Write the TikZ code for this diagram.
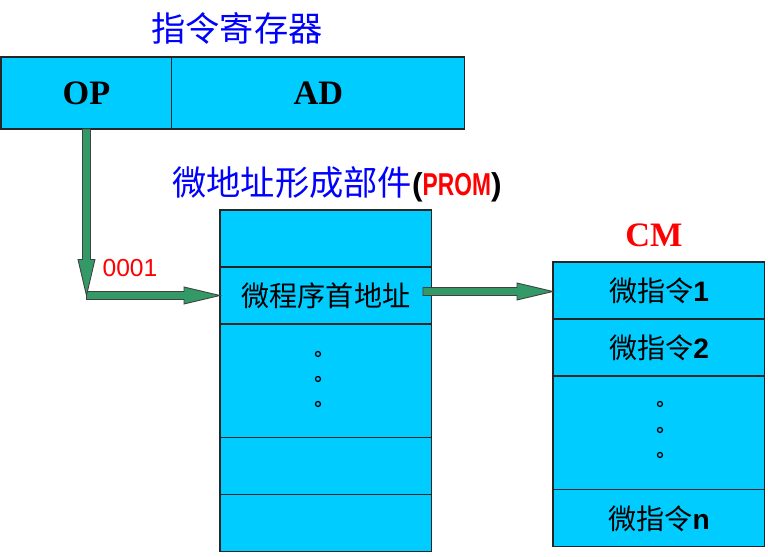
\documentclass[tikz,border=0pt]{standalone}
\usepackage{fontspec}
\setmainfont{Liberation Serif}
\setsansfont{Liberation Sans}
\newfontfamily\cjk{Noto Sans CJK SC}
\newfontfamily\narrowsans[FakeStretch=0.72]{Liberation Sans}
\usepackage{tikz}
\usetikzlibrary{positioning, calc}

\definecolor{cellcyan}{HTML}{00CCFF}
\definecolor{arrowgreen}{HTML}{339966}
\definecolor{titleblue}{HTML}{0000FF}
\definecolor{labelred}{HTML}{FF0000}

% block arrow from #1 to #2 (shaft + head as one outline)
\newcommand{\blockarrow}[2]{%
  \path ($(#2)!0.72cm!(#1)$) coordinate (hb);
  \filldraw[fill=arrowgreen, draw=black!75, line width=0.5pt, line join=miter]
    ($(#1)!0.08cm!90:(#2)$) -- ($(hb)!0.08cm!90:(#2)$) -- ($(hb)!0.17cm!90:(#2)$)
    -- (#2) -- ($(hb)!0.17cm!-90:(#2)$) -- ($(hb)!0.08cm!-90:(#2)$)
    -- ($(#1)!0.08cm!-90:(#2)$) -- cycle;}

\begin{document}
\begin{tikzpicture}[
        x=0.02cm, y=-0.02cm,
        cell/.style={draw=black!85, line width=0.6pt, fill=cellcyan, outer sep=0pt, inner sep=0pt,
                     minimum width=4.24cm, minimum height=#1, font=\cjk\fontsize{16}{19}\selectfont},
        cell/.default=1.14cm,
        regcell/.style={draw=black!85, line width=0.6pt, fill=cellcyan, outer sep=0pt, inner sep=0pt,
                     minimum height=1.44cm, font=\bfseries\fontsize{19.5}{23}\selectfont},
        title/.style={text=titleblue, inner sep=0pt, font=\cjk\fontsize{19.5}{23}\selectfont},
        lbl/.style={text=labelred, inner sep=0pt},
        dotmark/.style={draw=black, line width=0.7pt},
    ]
    \useasboundingbox (0,0) rectangle (768,556);

    % ---- Instruction register ----
    \node[title] (regtitle) at (237,28) {指令寄存器};
    \node[regcell, minimum width=3.42cm, anchor=north west] (op) at (1,57) {OP};
    \node[regcell, minimum width=5.86cm, right=0pt of op] (ad) {AD};

    % ---- PROM ----
    \node[anchor=west, inner sep=0pt] (promtitle) at (172,184)
        {\textcolor{titleblue}{\cjk\fontsize{19.5}{23}\selectfont 微地址形成部件}{\sffamily\bfseries\fontsize{18}{21}\selectfont(\textcolor{labelred}{\narrowsans\bfseries PROM})}};
    \node[cell, anchor=north west] (prom1) at (220,210) {};
    \node[cell, below=0pt of prom1] (prom2) {微程序首地址};
    \node[cell=2.28cm, below=0pt of prom2] (prom3) {};
    \node[cell, below=0pt of prom3] (prom4) {};
    \node[cell, below=0pt of prom4] (prom5) {};
    \foreach \dy in {-27,-2,23}
        \draw[dotmark] ($(prom3.center)+(-8,\dy)$) circle (0.05cm);

    % ---- Control memory ----
    \node[lbl, font=\bfseries\fontsize{19.5}{23}\selectfont] (cmtitle) at (654,235) {CM};
    \node[cell, anchor=north west] (cm1) at (553,262) {微指令{\sffamily\bfseries 1}};
    \node[cell, below=0pt of cm1] (cm2) {微指令{\sffamily\bfseries 2}};
    \node[cell=2.28cm, below=0pt of cm2] (cm3) {};
    \node[cell, below=0pt of cm3] (cm4) {微指令{\sffamily\bfseries n}};
    \foreach \dy in {-29,-3,22}
        \draw[dotmark] ($(cm3.center)+(1,\dy)$) circle (0.05cm);

    % ---- Arrows ----
    \coordinate (bend) at (op.south |- prom2.west);
    \coordinate (a2s) at ($(prom2.east)+(-9,-4)$);
    \coordinate (a2e) at (cm1.west |- a2s);
    \blockarrow{bend}{prom2.west}
    \blockarrow{a2s}{a2e}
    \blockarrow{op.south}{bend}
    \node[lbl, font=\sffamily\fontsize{14}{16}\selectfont] (code) at (130,268) {0001};
\end{tikzpicture}
\end{document}
